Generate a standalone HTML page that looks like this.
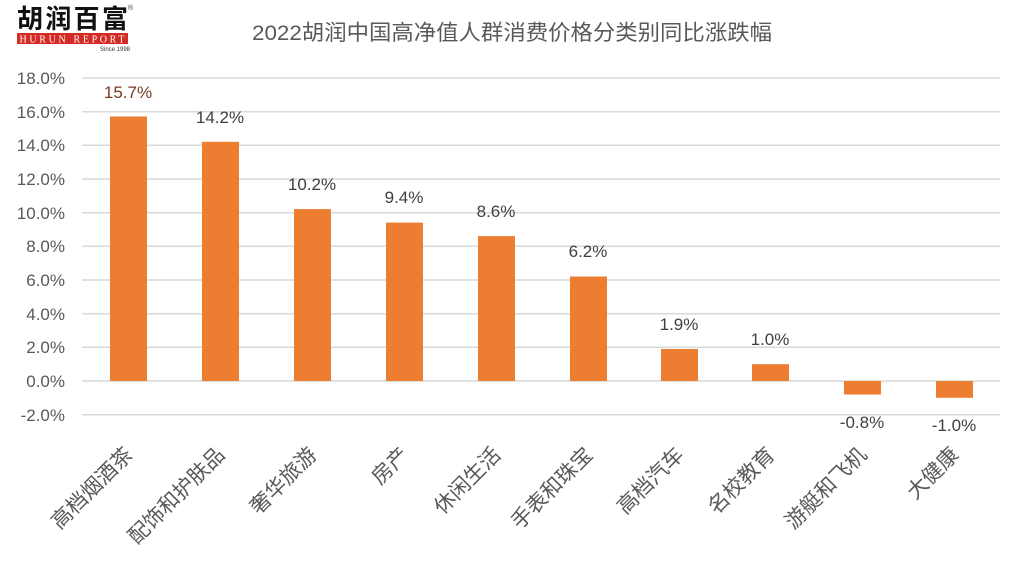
<!DOCTYPE html>
<html><head><meta charset="utf-8"><style>body{margin:0;background:#fff}svg{display:block}</style></head><body>
<svg width="1026" height="561" xmlns="http://www.w3.org/2000/svg" font-family="Liberation Sans, Noto Sans CJK SC, sans-serif">
<rect width="1026" height="561" fill="#fff"/>
<text x="17" y="28" font-size="26" font-weight="bold" fill="#111" font-family="Noto Sans CJK SC, sans-serif" textLength="111">胡润百富</text>
<text x="128" y="10" font-size="7" fill="#333">®</text>
<rect x="17" y="33" width="111" height="11" fill="#d42a23"/>
<text x="72" y="42.5" font-size="10" fill="#fff" text-anchor="middle" font-family="Liberation Serif, serif" textLength="105">HURUN REPORT</text>
<text x="100" y="51" font-size="6" fill="#333">Since 1998</text>
<text x="252" y="40" font-size="21.5" fill="#595959" textLength="520" lengthAdjust="spacingAndGlyphs" font-family="Liberation Sans, Noto Sans CJK SC, sans-serif">2022胡润中国高净值人群消费价格分类别同比涨跌幅</text>
<g stroke="#d9d9d9" stroke-width="1.5">
<line x1="82" x2="1000" y1="78" y2="78"/><line x1="82" x2="1000" y1="111.7" y2="111.7"/><line x1="82" x2="1000" y1="145.3" y2="145.3"/><line x1="82" x2="1000" y1="179" y2="179"/><line x1="82" x2="1000" y1="212.7" y2="212.7"/><line x1="82" x2="1000" y1="246.3" y2="246.3"/><line x1="82" x2="1000" y1="280" y2="280"/><line x1="82" x2="1000" y1="313.7" y2="313.7"/><line x1="82" x2="1000" y1="347.3" y2="347.3"/><line x1="82" x2="1000" y1="381" y2="381"/><line x1="82" x2="1000" y1="414.7" y2="414.7"/>
</g>
<g font-size="17" fill="#595959" text-anchor="end">
<text x="65" y="84">18.0%</text><text x="65" y="118">16.0%</text><text x="65" y="151">14.0%</text><text x="65" y="185">12.0%</text><text x="65" y="219">10.0%</text><text x="65" y="252">8.0%</text><text x="65" y="286">6.0%</text><text x="65" y="320">4.0%</text><text x="65" y="353">2.0%</text><text x="65" y="387">0.0%</text><text x="65" y="421">-2.0%</text>
</g>
<g fill="#ed7d31">
<rect x="110" y="116.5" width="37" height="264.5"/>
<rect x="202" y="141.8" width="37" height="239.2"/>
<rect x="294" y="209.1" width="37" height="171.9"/>
<rect x="386" y="222.6" width="37" height="158.4"/>
<rect x="478" y="236.1" width="37" height="144.9"/>
<rect x="570" y="276.5" width="37" height="104.5"/>
<rect x="661" y="349" width="37" height="32"/>
<rect x="752" y="364.2" width="37" height="16.8"/>
<rect x="844" y="381" width="37" height="13.5"/>
<rect x="936" y="381" width="37" height="16.8"/>
</g>
<g font-size="17" fill="#404040" text-anchor="middle">
<text x="128" y="98" fill="#7a3a20">15.7%</text><text x="220" y="123">14.2%</text><text x="312" y="190">10.2%</text><text x="404" y="203">9.4%</text><text x="496" y="217">8.6%</text><text x="588" y="257">6.2%</text><text x="679" y="330">1.9%</text><text x="770" y="345">1.0%</text><text x="862" y="428">-0.8%</text><text x="954" y="431">-1.0%</text>
</g>
<g font-size="21" fill="#595959" text-anchor="end" font-family="Noto Sans CJK SC, sans-serif">
<text transform="translate(134,456) rotate(-45)">高档烟酒茶</text>
<text transform="translate(226,456) rotate(-45)">配饰和护肤品</text>
<text transform="translate(318,456) rotate(-45)">奢华旅游</text>
<text transform="translate(410,456) rotate(-45)">房产</text>
<text transform="translate(502,456) rotate(-45)">休闲生活</text>
<text transform="translate(594,456) rotate(-45)">手表和珠宝</text>
<text transform="translate(685,456) rotate(-45)">高档汽车</text>
<text transform="translate(776,456) rotate(-45)">名校教育</text>
<text transform="translate(868,456) rotate(-45)">游艇和飞机</text>
<text transform="translate(960,456) rotate(-45)">大健康</text>
</g>
</svg>
</body></html>
